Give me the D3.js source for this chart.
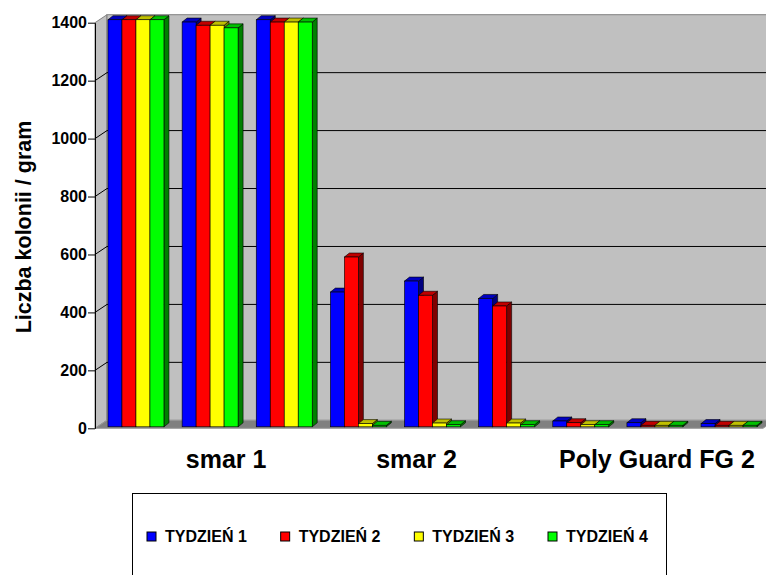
<!DOCTYPE html>
<html>
<head>
<meta charset="utf-8">
<script src="https://cdn.jsdelivr.net/npm/d3@7"></script>
<style>
  body { margin: 0; background: #fff; }
  text { font-family: "Liberation Sans", Arial, sans-serif; font-weight: bold; }
</style>
</head>
<body>
<div id="chartContainer"></div>
<script>
// chart data
const categories = ['smar 1', 'smar 2', 'Poly Guard FG 2'];
const samples = ['s1-a', 's1-b', 's1-c', 's2-a', 's2-b', 's2-c', 'pg-a', 'pg-b', 'pg-c'];
const sampleCategory = ['smar 1', 'smar 1', 'smar 1', 'smar 2', 'smar 2', 'smar 2', 'Poly Guard FG 2', 'Poly Guard FG 2', 'Poly Guard FG 2'];
const seriesNames = ['TYDZIEŃ 1', 'TYDZIEŃ 2', 'TYDZIEŃ 3', 'TYDZIEŃ 4'];
const tydzien1 = [1405, 1397, 1405, 465, 503, 443, 20, 14, 11];
const tydzien2 = [1405, 1386, 1397, 586, 454, 417, 14, 5, 5];
const tydzien3 = [1405, 1386, 1397, 11, 13, 13, 7, 5, 5];
const tydzien4 = [1405, 1377, 1397, 5, 7, 7, 7, 5, 5];
const yTicks = [0, 200, 400, 600, 800, 1000, 1200, 1400];

const seriesValues = [tydzien1, tydzien2, tydzien3, tydzien4];
const fillColors = ['#0000ff', '#ff0000', '#ffff00', '#00ff00'];
const topColors = ['#0000c0', '#c00000', '#c0c000', '#00c000'];
const sideColors = ['#000080', '#800000', '#808000', '#008000'];

const width = 766;
const height = 575;
const plotLeft = 95, plotRight = 763;
const depthX = 12, depthY = -8;     // wall depth
const barDX = 5, barDY = -4;        // bar depth
const barLift = -1.5;

const svg = d3.select('#chartContainer')
  .append('svg')
  .attr('width', width)
  .attr('height', height);

const y = d3.scaleLinear()
  .domain([0, 1400])
  .range([428.3, 22.7]);

const x = d3.scaleBand()
  .domain(samples)
  .range([plotLeft, 770])
  .paddingInner(0.245)
  .paddingOuter(0.175);

const xi = d3.scaleBand()
  .domain(seriesNames)
  .range([0, x.bandwidth()]);

// walls
const y0 = y(0), yTop = y(1400);
svg.append('polygon')
  .attr('points', [[plotLeft, yTop], [plotLeft + depthX, yTop + depthY], [plotLeft + depthX, y0 + depthY], [plotLeft, y0]].join(' '))
  .attr('fill', '#c0c0c0')
  .attr('stroke', '#808080');

svg.append('rect')
  .attr('x', plotLeft + depthX)
  .attr('y', yTop + depthY)
  .attr('width', plotRight - plotLeft + 10)
  .attr('height', y0 - yTop)
  .attr('fill', '#c0c0c0')
  .attr('stroke', '#808080');

// gridlines
const grid = yTicks.filter(t => t > 0 && t < 1400);
svg.append('g').selectAll('path')
  .data(grid)
  .enter().append('path')
  .attr('d', t => `M${plotLeft},${y(t)}L${plotLeft + depthX},${y(t) + depthY}L${plotRight + depthX},${y(t) + depthY}`)
  .attr('fill', 'none')
  .attr('stroke', '#000')
  .attr('stroke-width', 1);

// floor
svg.append('polygon')
  .attr('points', [[plotLeft, y0], [plotRight, y0], [plotRight + depthX, y0 + depthY], [plotLeft + depthX, y0 + depthY]].join(' '))
  .attr('fill', '#808080')
  .attr('stroke', '#999');

// bars
const barData = [];
samples.forEach((s, i) => {
  seriesNames.forEach((name, k) => {
    barData.push({ sample: s, series: name, k: k, value: seriesValues[k][i] });
  });
});

const bars = svg.append('g').selectAll('g')
  .data(barData)
  .enter().append('g');

bars.each(function (d) {
  const g = d3.select(this);
  const bx = x(d.sample) + xi(d.series);
  const bw = xi.bandwidth();
  const top = y(d.value) + barLift;
  const bottom = y(0) + barLift;
  g.append('polygon')
    .attr('points', [[bx + bw, top], [bx + bw + barDX, top + barDY], [bx + bw + barDX, bottom + barDY], [bx + bw, bottom]].join(' '))
    .attr('fill', sideColors[d.k])
    .attr('stroke', '#000')
    .attr('stroke-width', 0.6);
  g.append('polygon')
    .attr('points', [[bx, top], [bx + barDX, top + barDY], [bx + bw + barDX, top + barDY], [bx + bw, top]].join(' '))
    .attr('fill', topColors[d.k])
    .attr('stroke', '#000')
    .attr('stroke-width', 0.6);
  g.append('rect')
    .attr('x', bx)
    .attr('y', top)
    .attr('width', bw)
    .attr('height', bottom - top)
    .attr('fill', fillColors[d.k])
    .attr('stroke', '#000')
    .attr('stroke-width', 0.6);
});

// y axis
const yAxis = svg.append('g')
  .attr('transform', `translate(${plotLeft},0)`)
  .call(d3.axisLeft(y).tickValues(yTicks).tickFormat(d3.format('d')).tickSize(7).tickPadding(1).tickSizeOuter(0));
yAxis.select('.domain').attr('stroke', '#000');
yAxis.selectAll('.tick line').attr('stroke', '#000');
yAxis.selectAll('.tick text')
  .attr('font-size', 16)
  .attr('fill', '#000')
  .style('font-family', '"Liberation Sans", Arial, sans-serif')
  .style('font-weight', 'bold');

// axis title
svg.append('text')
  .attr('transform', 'translate(31,227) rotate(-90)')
  .attr('text-anchor', 'middle')
  .attr('font-size', 21.5)
  .text('Liczba kolonii / gram');

// category labels (centred under each group of samples)
const labelShift = [16, -16, 2];
svg.append('g').selectAll('text')
  .data(categories)
  .enter().append('text')
  .attr('x', (c, i) => {
    const idx = sampleCategory.map((sc, j) => sc === c ? j : -1).filter(j => j >= 0);
    const cx = d3.mean(idx, j => x(samples[j]) + x.bandwidth() / 2);
    return cx + labelShift[i];
  })
  .attr('y', 468)
  .attr('text-anchor', 'middle')
  .attr('font-size', 25)
  .text(c => c);

// legend
svg.append('rect')
  .attr('x', 132.5)
  .attr('y', 493.5)
  .attr('width', 534)
  .attr('height', 120)
  .attr('fill', '#fff')
  .attr('stroke', '#000');

const lx = d3.scalePoint().domain(seriesNames).range([147, 548]);
const legend = svg.append('g').selectAll('g')
  .data(seriesNames)
  .enter().append('g')
  .attr('transform', d => `translate(${lx(d)},532)`);
legend.append('rect')
  .attr('width', 9)
  .attr('height', 9)
  .attr('fill', (d, i) => fillColors[i])
  .attr('stroke', '#000');
legend.append('text')
  .attr('x', 18)
  .attr('y', 10)
  .attr('font-size', 16)
  .text(d => d);
</script>
</body>
</html>
